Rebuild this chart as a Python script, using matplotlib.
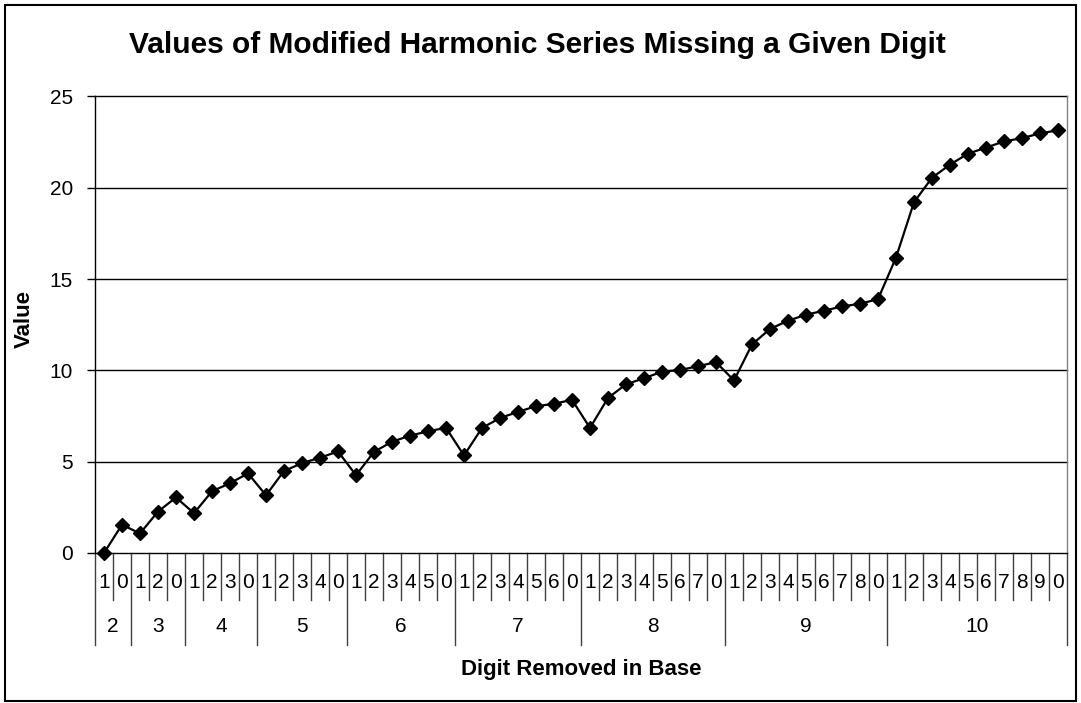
import matplotlib
matplotlib.use("Agg")
import matplotlib.pyplot as plt
import matplotlib.transforms as mtransforms
from matplotlib.patches import Rectangle

plt.rcParams['font.family'] = ['Liberation Sans', 'DejaVu Sans']

# ---- data ----
bases = ["2", "3", "4", "5", "6", "7", "8", "9", "10"]
group_sizes = [2, 3, 4, 5, 6, 7, 8, 9, 10]
digit_labels = ["1", "0",
                "1", "2", "0",
                "1", "2", "3", "0",
                "1", "2", "3", "4", "0",
                "1", "2", "3", "4", "5", "0",
                "1", "2", "3", "4", "5", "6", "0",
                "1", "2", "3", "4", "5", "6", "7", "0",
                "1", "2", "3", "4", "5", "6", "7", "8", "0",
                "1", "2", "3", "4", "5", "6", "7", "8", "9", "0"]
values = [0.0, 1.55,
          1.07, 2.27, 3.04,
          2.18, 3.38, 3.82, 4.36,
          3.16, 4.49, 4.92, 5.22, 5.56,
          4.26, 5.54, 6.09, 6.43, 6.66, 6.86,
          5.34, 6.85, 7.39, 7.73, 8.04, 8.17, 8.39,
          6.85, 8.49, 9.24, 9.57, 9.93, 10.02, 10.23, 10.45,
          9.45, 11.42, 12.27, 12.72, 13.05, 13.27, 13.50, 13.65, 13.90,
          16.18, 19.21, 20.55, 21.27, 21.87, 22.20, 22.54, 22.72, 22.98, 23.15]
yticks = [0, 5, 10, 15, 20, 25]

title = "Values of Modified Harmonic Series Missing a Given Digit"
xlabel = "Digit Removed in Base"
ylabel = "Value"

W, H = 1081, 703
fig = plt.figure(figsize=(W / 100, H / 100), dpi=100)
fig.patch.set_facecolor("white")

ax_l, ax_r, ax_t, ax_b = 95, 1067, 96.5, 553
ax = fig.add_axes([ax_l / W, 1 - ax_b / H, (ax_r - ax_l) / W, (ax_b - ax_t) / H])

n = len(values)
x = list(range(n))
ax.plot(x, values, color="black", lw=1.6, marker="D", ms=7.4,
        markerfacecolor="black", markeredgecolor="black", clip_on=False, zorder=5)

ax.set_xlim(-0.5, n - 0.5)
ax.set_ylim(0, 25)
ax.set_yticks(yticks)
ax.set_yticklabels([str(v) for v in yticks], fontsize=15)
ax.tick_params(axis="y", direction="out", length=6, width=1, pad=10, colors="black")
ax.set_xticks([])
for v in yticks[1:]:
    ax.axhline(v, color="black", lw=1, zorder=1, clip_on=False)

ax.spines["top"].set_visible(False)
ax.spines["right"].set_color("#808080")
ax.spines["right"].set_linewidth(1)
ax.spines["left"].set_color("black")
ax.spines["bottom"].set_color("black")
ax.spines["left"].set_linewidth(1)
ax.spines["bottom"].set_linewidth(1)

# ---- multi-level category axis ----
px = 1.0 / (ax_b - ax_t)
trans = mtransforms.blended_transform_factory(ax.transData, ax.transAxes)
group_edges = [-0.5]
for g in group_sizes:
    group_edges.append(group_edges[-1] + g)

for k in range(n + 1):
    xb = k - 0.5
    bottom = -92 * px if xb in group_edges else -47 * px
    ax.plot([xb, xb], [0, bottom], transform=trans, color="#404040", lw=1, clip_on=False)

for i, lab in enumerate(digit_labels):
    ax.text(i, -29 * px, lab, transform=trans, ha="center", va="center", fontsize=15)

for j, lab in enumerate(bases):
    xc = (group_edges[j] + group_edges[j + 1]) / 2
    ax.text(xc, -74 * px, lab, transform=trans, ha="center", va="center", fontsize=15)

fig.text(581 / W, 1 - 669 / H, xlabel, ha="center", va="center", fontsize=16, fontweight="bold")
fig.text(24 / W, 1 - 319 / H, ylabel, ha="center", va="center", fontsize=16, fontweight="bold",
         rotation=90)
fig.text(537 / W, 1 - 45 / H, title, ha="center", va="center", fontsize=21.5, fontweight="bold")

# outer chart border
fig.patches.append(Rectangle((5 / W, 1 - 701 / H), (1076 - 5) / W, (701 - 5) / H,
                             transform=fig.transFigure, fill=False, edgecolor="black", lw=1.5))

fig.savefig("out.png", dpi=100, facecolor="white")
